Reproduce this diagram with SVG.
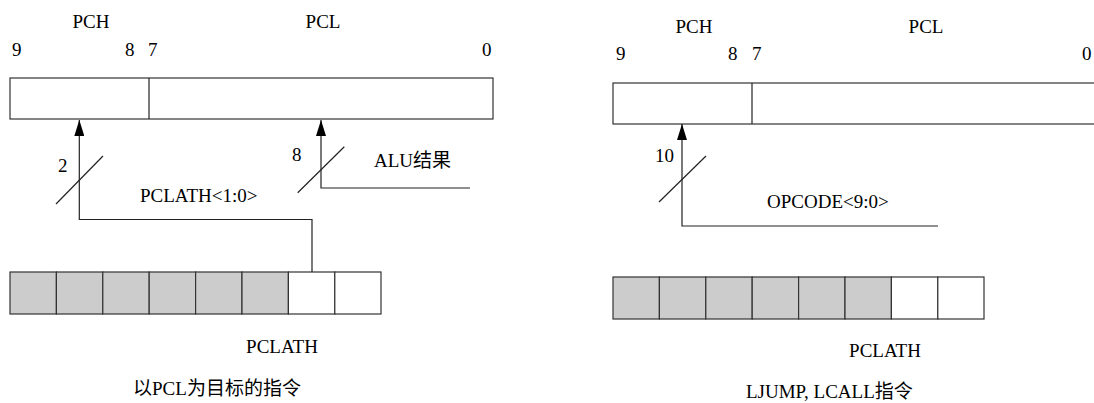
<svg xmlns="http://www.w3.org/2000/svg" width="1094" height="403" viewBox="0 0 1094 403">
<style>
.t{font-family:'Liberation Serif','Times New Roman',Tinos,'DejaVu Serif',serif;font-size:19px;fill:#000}
.k{font-family:'Noto Sans CJK SC','Noto Serif CJK SC',sans-serif}
.b{fill:#fff;stroke:#333;stroke-width:1.2}
.g{fill:#ccc;stroke:#333;stroke-width:1.2}
.w{fill:#fff;stroke:#333;stroke-width:1.2}
.c{fill:none;stroke:#222;stroke-width:1.2}
</style>
<defs>
<marker id="ah" viewBox="0 0 16 10" refX="16" refY="5" markerWidth="16" markerHeight="10" markerUnits="userSpaceOnUse" orient="auto">
<path d="M0,0 L16,5 L0,10 Z" fill="#000"/>
</marker>
</defs>
<rect width="1094" height="403" fill="#fff"/>

<g id="left-pc">
<rect class="b" x="10" y="78" width="483" height="41"/>
<line class="c" x1="149" y1="78" x2="149" y2="119"/>
<text class="t" x="91" y="28" text-anchor="middle">PCH</text>
<text class="t" x="323" y="28" text-anchor="middle">PCL</text>
<text class="t" x="12" y="56">9</text>
<text class="t" x="125" y="56">8</text>
<text class="t" x="148" y="56">7</text>
<text class="t" x="482" y="56">0</text>
</g>

<g id="left-pclath">
<rect class="g" x="10" y="272" width="46.4" height="42"/>
<rect class="g" x="56.4" y="272" width="46.4" height="42"/>
<rect class="g" x="102.8" y="272" width="46.4" height="42"/>
<rect class="g" x="149.2" y="272" width="46.4" height="42"/>
<rect class="g" x="195.6" y="272" width="46.4" height="42"/>
<rect class="g" x="242" y="272" width="46.4" height="42"/>
<rect class="w" x="288.4" y="272" width="46.4" height="42"/>
<rect class="w" x="334.8" y="272" width="46.2" height="42"/>
<text class="t" x="282" y="353" text-anchor="middle">PCLATH</text>
</g>

<g id="left-title">
<text class="t" x="133" y="395"><tspan class="k">以</tspan>PCL<tspan class="k">为目标的指令</tspan></text>
</g>

<g id="right-pc">
<rect class="b" x="613" y="83" width="485" height="41"/>
<line class="c" x1="752" y1="83" x2="752" y2="124"/>
<text class="t" x="694" y="33" text-anchor="middle">PCH</text>
<text class="t" x="926" y="33" text-anchor="middle">PCL</text>
<text class="t" x="616" y="60">9</text>
<text class="t" x="728" y="60">8</text>
<text class="t" x="752" y="60">7</text>
<text class="t" x="1082" y="60">0</text>
</g>

<g id="right-pclath">
<rect class="g" x="613" y="277" width="46.4" height="42"/>
<rect class="g" x="659.4" y="277" width="46.4" height="42"/>
<rect class="g" x="705.8" y="277" width="46.4" height="42"/>
<rect class="g" x="752.2" y="277" width="46.4" height="42"/>
<rect class="g" x="798.6" y="277" width="46.4" height="42"/>
<rect class="g" x="845" y="277" width="46.4" height="42"/>
<rect class="w" x="891.4" y="277" width="46.4" height="42"/>
<rect class="w" x="937.8" y="277" width="46.2" height="42"/>
<text class="t" x="885" y="357" text-anchor="middle">PCLATH</text>
</g>

<g id="right-title">
<text class="t" x="746" y="398">LJUMP, LCALL<tspan class="k">指令</tspan></text>
</g>

<g id="connectors">
<path class="c" d="M312,272 V219.5 H79.3 V120" marker-end="url(#ah)"/>
<line class="c" x1="56" y1="204" x2="103" y2="156"/>
<text class="t" x="58" y="172">2</text>
<text class="t" x="140" y="202">PCLATH&lt;1:0&gt;</text>

<path class="c" d="M470,188 H321 V120" marker-end="url(#ah)"/>
<line class="c" x1="297.7" y1="192.7" x2="344.3" y2="146.7"/>
<text class="t" x="292" y="161">8</text>
<text class="t" x="374" y="167">ALU<tspan class="k">结果</tspan></text>

<path class="c" d="M938,226 H682 V124" marker-end="url(#ah)"/>
<line class="c" x1="659" y1="202" x2="706" y2="156"/>
<text class="t" x="655" y="162">10</text>
<text class="t" x="767" y="208">OPCODE&lt;9:0&gt;</text>
</g>
</svg>
